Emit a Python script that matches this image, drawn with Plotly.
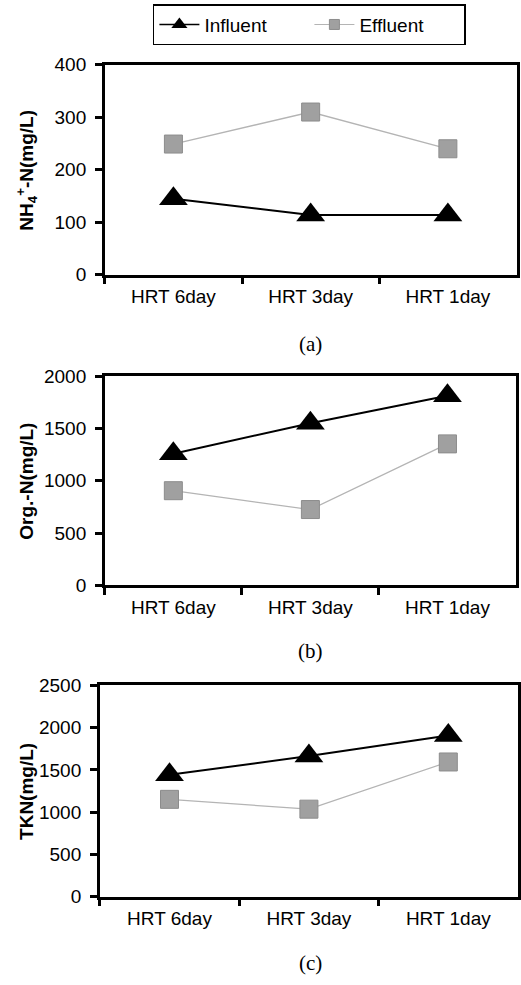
import plotly.graph_objects as go

categories = ["HRT 6day", "HRT 3day", "HRT 1day"]

nh4_influent = [145, 114, 114]
nh4_effluent = [249, 310, 240]

orgn_influent = [1258, 1549, 1812]
orgn_effluent = [905, 725, 1352]

tkn_influent = [1442, 1663, 1907]
tkn_effluent = [1151, 1035, 1593]

y_titles = ["NH<sub>4</sub><sup>+</sup>-N(mg/L)", "Org.-N(mg/L)", "TKN(mg/L)"]
captions = ["(a)", "(b)", "(c)"]
y_ranges = [[0, 400], [0, 2000], [0, 2500]]
y_dticks = [100, 500, 500]

W, H = 521, 985
# pixel layout of panels: (left, right, top, bottom)
panels = [(105, 517.5, 56, 270.5), (105, 517, 374, 588), (100, 519, 690, 906)]
caption_y = [341, 655, 974]

series = [(nh4_influent, nh4_effluent), (orgn_influent, orgn_effluent), (tkn_influent, tkn_effluent)]

fig = go.Figure()
SANS = "Liberation Sans, Arial, sans-serif"

for i, (inf, eff) in enumerate(series):
    xa = "x" if i == 0 else f"x{i+1}"
    ya = "y" if i == 0 else f"y{i+1}"
    fig.add_trace(go.Scatter(
        x=categories, y=eff, mode="lines+markers", name="Effluent",
        xaxis=xa, yaxis=ya, showlegend=False,
        line=dict(color="#b4b4b4", width=1.3),
        marker=dict(symbol="square", size=18, color="#a0a0a0",
                    line=dict(color="#8c8c8c", width=1)),
    ))
    fig.add_trace(go.Scatter(
        x=categories, y=inf, mode="lines+markers", name="Influent",
        xaxis=xa, yaxis=ya, showlegend=False,
        line=dict(color="black", width=2),
        marker=dict(symbol="triangle-up", size=25, color="black"),
    ))

# legend entries
fig.add_trace(go.Scatter(x=[None], y=[None], mode="lines+markers", name="Influent",
                         line=dict(color="black", width=1.5),
                         marker=dict(symbol="triangle-up", size=14, color="black")))
fig.add_trace(go.Scatter(x=[None], y=[None], mode="lines+markers", name="Effluent",
                         line=dict(color="#b4b4b4", width=1.2),
                         marker=dict(symbol="square", size=10, color="#a0a0a0",
                                     line=dict(color="#8c8c8c", width=1))))

layout = dict(
    width=W, height=H,
    margin=dict(l=0, r=0, t=0, b=0),
    paper_bgcolor="white", plot_bgcolor="white",
    font=dict(family=SANS, size=19, color="black"),
    showlegend=True,
    legend=dict(
        orientation="h", x=310 / W, xanchor="center", y=1 + 6 / H, yanchor="top",
        bordercolor="black", borderwidth=1.5, bgcolor="white",
        font=dict(family=SANS, size=19, color="black"),
        itemwidth=40, traceorder="normal",
        entrywidth=100, entrywidthmode="pixels",
    ),
)

annotations = []
for i, (l, r, t, b) in enumerate(panels):
    xk = "xaxis" if i == 0 else f"xaxis{i+1}"
    yk = "yaxis" if i == 0 else f"yaxis{i+1}"
    xa = "x" if i == 0 else f"x{i+1}"
    ya = "y" if i == 0 else f"y{i+1}"
    layout[xk] = dict(
        domain=[l / W, r / W], anchor=ya, type="category",
        range=[-0.5, 2.5],
        tickson="boundaries", ticks="outside", ticklen=7, tickwidth=2.5, tickcolor="black",
        showline=True, linewidth=2.5, linecolor="black", mirror=True,
        showgrid=False, zeroline=False,
        tickfont=dict(family=SANS, size=19, color="black"),
        ticklabelstandoff=3,
        fixedrange=True,
    )
    layout[yk] = dict(
        domain=[1 - b / H, 1 - t / H], anchor=xa,
        range=y_ranges[i], dtick=y_dticks[i], tick0=0,
        ticks="outside", ticklen=7, tickwidth=2.5, tickcolor="black",
        showline=True, linewidth=2.5, linecolor="black", mirror=True,
        showgrid=False, zeroline=False,
        tickfont=dict(family=SANS, size=19, color="black"),
        ticklabelstandoff=5,
        fixedrange=True,
    )
    annotations.append(dict(
        text=f"<b>{y_titles[i]}</b>", xref="paper", yref="paper",
        x=27 / W, y=1 - ((t + b) / 2) / H, xanchor="center", yanchor="middle",
        textangle=-90, showarrow=False,
        font=dict(family=SANS, size=19, color="black"),
    ))
    annotations.append(dict(
        text=captions[i], xref="paper", yref="paper",
        x=311 / W, y=1 - caption_y[i] / H, xanchor="center", yanchor="middle",
        showarrow=False,
        font=dict(family="Liberation Serif, Times New Roman, serif", size=21, color="black"),
    ))

layout["annotations"] = annotations
fig.update_layout(**layout)

fig.write_html("out.html")
